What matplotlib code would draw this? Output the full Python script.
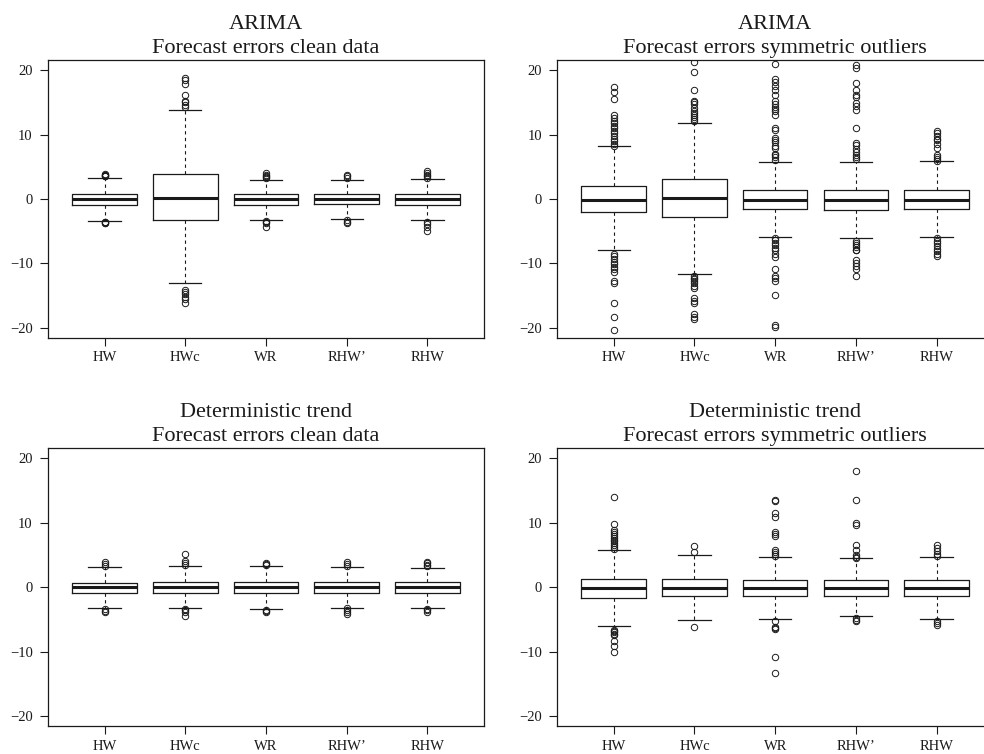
import matplotlib
matplotlib.use("Agg")
import matplotlib.pyplot as plt

plt.rcParams["font.family"] = ["Liberation Serif", "DejaVu Serif"]

# Nama metode (sumbu x)
labels = ["HW", "HWc", "WR", "RHW\u2019", "RHW"]

titles = [
    "ARIMA\nForecast errors clean data",
    "ARIMA\nForecast errors symmetric outliers",
    "Deterministic trend\nForecast errors clean data",
    "Deterministic trend\nForecast errors symmetric outliers",
]

# ARIMA - clean data
arima_clean_q1 = [-0.88, -3.31, -0.88, -0.85, -0.88]
arima_clean_med = [0.0, 0.16, 0.0, 0.0, 0.0]
arima_clean_q3 = [0.82, 3.83, 0.78, 0.78, 0.80]
arima_clean_lo = [-3.37, -13.04, -3.26, -3.15, -3.30]
arima_clean_hi = [3.26, 13.87, 3.00, 2.90, 3.10]
arima_clean_out = [
    [3.5, 3.6, 3.7, 3.8, 3.9, -3.5, -3.6, -3.7, -3.8],
    [14.3, 14.6, 15.0, 15.3, 16.2, 17.9, 18.5, 18.8,
     -14.1, -14.4, -14.8, -15.2, -15.6, -16.1],
    [3.2, 3.4, 3.6, 3.8, 4.0, -3.4, -3.6, -3.8, -4.4],
    [3.2, 3.5, 3.7, -3.3, -3.5, -3.7],
    [3.3, 3.5, 3.8, 4.1, 4.4, -3.6, -3.9, -4.4, -5.0],
]

# ARIMA - symmetric outliers
arima_sym_q1 = [-2.07, -2.80, -1.60, -1.65, -1.55]
arima_sym_med = [-0.15, 0.10, -0.15, -0.15, -0.15]
arima_sym_q3 = [1.97, 3.10, 1.40, 1.45, 1.40]
arima_sym_lo = [-7.87, -11.60, -5.90, -6.05, -5.90]
arima_sym_hi = [8.18, 11.75, 5.80, 5.75, 5.85]
arima_sym_out = [
    [8.3, 8.6, 9.0, 9.4, 9.8, 10.2, 10.6, 11.0, 11.4, 11.8, 12.2, 12.6, 13.0,
     15.6, 16.6, 17.4,
     -8.6, -8.9, -9.3, -9.8, -10.1, -10.5, -10.9, -11.4, -12.8, -13.0,
     -16.2, -18.3, -20.4],
    [12.1, 12.4, 12.7, 13.0, 13.3, 13.7, 14.2, 14.7, 15.0, 15.3, 16.9, 19.7, 21.3,
     -11.9, -12.2, -12.5, -12.8, -13.1, -13.5, -13.9, -15.4, -15.9, -16.1,
     -17.8, -18.3, -18.7],
    [6.1, 6.5, 6.8, 7.0, 8.0, 8.3, 8.9, 9.2, 9.5, 10.7, 11.0, 13.1, 13.6, 14.0,
     14.3, 14.7, 15.2, 16.2, 17.0, 17.6, 18.2, 18.7, 21.0,
     -6.1, -6.4, -6.8, -7.2, -7.6, -8.0, -8.5, -9.0, -10.8, -12.0, -12.2,
     -12.7, -14.9, -19.5, -19.9],
    [6.2, 6.6, 6.9, 7.3, 7.7, 8.4, 8.7, 11.0, 13.8, 14.5, 14.9, 15.9, 16.2,
     17.0, 18.1, 20.3, 20.8,
     -6.5, -6.8, -7.1, -7.4, -7.9, -8.0, -9.4, -9.9, -10.4, -10.8, -12.0],
    [5.9, 6.2, 6.5, 6.8, 8.0, 8.6, 9.1, 9.4, 9.8, 10.2, 10.6,
     -6.1, -6.5, -6.9, -7.3, -7.7, -8.1, -8.5, -8.8],
]

# Deterministic trend - clean data
det_clean_q1 = [-0.88, -0.88, -0.88, -0.88, -0.88]
det_clean_med = [0.0, 0.0, 0.0, 0.0, 0.0]
det_clean_q3 = [0.73, 0.78, 0.78, 0.78, 0.78]
det_clean_lo = [-3.26, -3.26, -3.40, -3.16, -3.26]
det_clean_hi = [3.16, 3.26, 3.26, 3.20, 3.05]
det_clean_out = [
    [3.3, 3.6, 3.9, -3.4, -3.7, -3.9],
    [3.4, 3.7, 4.0, 5.1, -3.4, -3.6, -3.8, -4.4],
    [3.4, 3.6, 3.8, -3.5, -3.7, -3.8],
    [3.3, 3.6, 3.9, -3.3, -3.6, -3.9, -4.1],
    [3.3, 3.5, 3.7, 3.9, -3.4, -3.6, -3.8],
]

# Deterministic trend - symmetric outliers
det_sym_q1 = [-1.66, -1.35, -1.40, -1.30, -1.30]
det_sym_med = [-0.16, -0.16, -0.16, -0.16, -0.16]
det_sym_q3 = [1.35, 1.24, 1.14, 1.09, 1.09]
det_sym_lo = [-6.06, -5.13, -4.97, -4.46, -4.92]
det_sym_hi = [5.85, 4.97, 4.72, 4.46, 4.72]
det_sym_out = [
    [5.9, 6.2, 6.5, 6.8, 7.1, 7.4, 7.7, 8.0, 8.3, 8.6, 8.9, 9.8, 14.0,
     -6.6, -6.8, -7.0, -7.2, -7.4, -8.4, -9.1, -10.0],
    [5.4, 6.4, -6.1],
    [4.9, 5.2, 5.5, 5.8, 7.9, 8.3, 8.5, 10.9, 11.5, 13.4, 13.6,
     -5.3, -6.1, -6.3, -6.5, -10.9, -13.3],
    [4.5, 4.7, 5.0, 5.8, 6.5, 9.7, 10.0, 13.6, 18.0, -4.8, -5.1, -5.3],
    [4.9, 5.1, 5.6, 6.1, 6.6, -5.2, -5.5, -5.8],
]

LINE = "#1a1a1a"


# Fungsi susun statistik boxplot
def make_stats(q1, med, q3, lo, hi, out):
    stats = []
    for i in range(len(labels)):
        stats.append({
            "label": labels[i],
            "q1": q1[i], "med": med[i], "q3": q3[i],
            "whislo": lo[i], "whishi": hi[i],
            "fliers": out[i],
        })
    return stats


# Fungsi gambar satu panel
def draw_panel(ax, stats, title):
    ax.bxp(
        stats, positions=range(1, len(labels) + 1), widths=0.8, capwidths=0.4,
        boxprops=dict(color=LINE, linewidth=0.9),
        whiskerprops=dict(color=LINE, linewidth=0.8, linestyle=(0, (3, 3))),
        capprops=dict(color=LINE, linewidth=0.9),
        medianprops=dict(color=LINE, linewidth=2.2, solid_capstyle="butt"),
        flierprops=dict(marker="o", markersize=4.6, markerfacecolor="none",
                        markeredgecolor=LINE, markeredgewidth=0.7),
    )
    ax.set_xlim(0.3, 5.7)
    ax.set_ylim(-21.6, 21.6)
    ax.set_yticks([-20, -10, 0, 10, 20])
    ax.set_xticks(range(1, len(labels) + 1))
    ax.set_xticklabels(labels)
    ax.tick_params(axis="both", direction="out", length=6, width=0.8,
                   colors=LINE, labelsize=10.5)
    ax.tick_params(axis="y", pad=5)
    ax.tick_params(axis="x", pad=3.5)
    for spine in ax.spines.values():
        spine.set_color(LINE)
        spine.set_linewidth(0.9)
    ax.set_title(title, fontsize=16, linespacing=1.36, pad=5, color=LINE)


def main():
    fig = plt.figure(figsize=(9.84, 7.54), dpi=100)

    panels = [
        (make_stats(arima_clean_q1, arima_clean_med, arima_clean_q3,
                    arima_clean_lo, arima_clean_hi, arima_clean_out),
         [0.0488, 0.5517, 0.443, 0.3687]),
        (make_stats(arima_sym_q1, arima_sym_med, arima_sym_q3,
                    arima_sym_lo, arima_sym_hi, arima_sym_out),
         [0.5663, 0.5517, 0.443, 0.3687]),
        (make_stats(det_clean_q1, det_clean_med, det_clean_q3,
                    det_clean_lo, det_clean_hi, det_clean_out),
         [0.0488, 0.0367, 0.443, 0.369]),
        (make_stats(det_sym_q1, det_sym_med, det_sym_q3,
                    det_sym_lo, det_sym_hi, det_sym_out),
         [0.5663, 0.0367, 0.443, 0.369]),
    ]

    for (stats, rect), title in zip(panels, titles):
        ax = fig.add_axes(rect)
        draw_panel(ax, stats, title)

    fig.savefig("out.png", dpi=100)


if __name__ == "__main__":
    main()
